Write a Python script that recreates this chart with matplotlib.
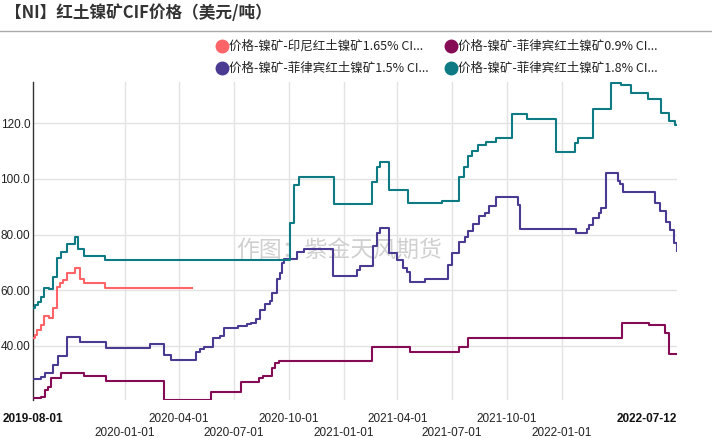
import matplotlib
matplotlib.use("Agg")
import matplotlib.pyplot as plt
import pandas as pd
from matplotlib.lines import Line2D

# ---- data ----
pink_dates = ["2019-08-01", "2019-08-04", "2019-08-07", "2019-08-14", "2019-08-19", "2019-08-27",
              "2019-09-03", "2019-09-10", "2019-09-15", "2019-09-20", "2019-09-26", "2019-10-10",
              "2019-10-18", "2019-10-25", "2019-11-29", "2020-04-22"]
pink_vals = [42.8, 44.0, 45.7, 47.5, 50.8, 50.0, 53.8, 61.2, 62.6, 63.7, 66.2, 68.0,
             64.0, 62.6, 60.7, 60.7]

teal_dates = ["2019-08-01", "2019-08-04", "2019-08-09", "2019-08-14", "2019-08-19", "2019-08-27",
              "2019-09-03", "2019-09-10", "2019-09-16", "2019-09-26", "2019-10-10", "2019-10-16",
              "2019-10-25", "2019-11-29", "2020-10-04", "2020-10-10", "2020-10-18", "2020-12-16",
              "2021-02-18", "2021-02-25", "2021-03-02", "2021-03-17", "2021-04-19", "2021-06-15",
              "2021-07-13", "2021-07-21", "2021-07-27", "2021-08-03", "2021-08-14", "2021-08-27",
              "2021-09-13", "2021-10-09", "2021-11-04", "2021-12-22", "2022-01-23", "2022-01-27",
              "2022-02-22", "2022-03-24", "2022-04-09", "2022-04-26", "2022-05-24", "2022-06-16",
              "2022-06-29", "2022-07-09", "2022-07-12"]
teal_vals = [53.5, 54.7, 55.9, 57.7, 60.7, 60.5, 64.9, 71.5, 73.9, 76.5, 79.0, 75.0,
             72.3, 70.9, 84.0, 97.8, 100.8, 90.9, 99.0, 104.4, 106.0, 95.9, 91.2, 92.2,
             100.8, 104.2, 108.2, 110.1, 112.2, 113.4, 114.8, 123.4, 121.4, 109.8, 112.8, 114.8,
             125.0, 134.5, 133.8, 130.7, 128.8, 123.8, 120.9, 119.4, 119.4]

purple_dates = ["2019-08-01", "2019-08-15", "2019-08-21", "2019-09-03", "2019-09-11", "2019-09-26",
                "2019-10-18", "2019-12-01", "2020-02-13", "2020-03-07", "2020-03-19", "2020-04-30",
                "2020-05-06", "2020-05-12", "2020-05-27", "2020-06-09", "2020-06-15", "2020-07-09",
                "2020-07-23", "2020-07-31", "2020-08-07", "2020-08-14", "2020-08-22", "2020-08-31",
                "2020-09-04", "2020-09-11", "2020-09-16", "2020-09-20", "2020-09-24", "2020-10-15",
                "2020-10-27", "2020-12-15", "2021-01-23", "2021-01-28", "2021-02-19", "2021-02-25",
                "2021-03-02", "2021-03-17", "2021-03-31", "2021-04-11", "2021-04-17", "2021-04-22",
                "2021-05-17", "2021-06-24", "2021-07-01", "2021-07-13", "2021-07-22", "2021-07-27",
                "2021-08-05", "2021-08-15", "2021-08-26", "2021-09-01", "2021-09-13", "2021-10-19",
                "2021-10-22", "2022-01-24", "2022-02-11", "2022-02-15", "2022-02-22", "2022-03-03",
                "2022-03-07", "2022-03-15", "2022-04-05", "2022-04-08", "2022-04-13", "2022-06-06",
                "2022-06-14", "2022-06-23", "2022-06-30", "2022-07-07", "2022-07-12"]
purple_vals = [28.3, 29.0, 30.4, 33.2, 36.4, 43.3, 41.3, 39.4, 40.8, 36.8, 34.9, 38.0,
               38.8, 39.8, 43.0, 43.6, 46.4, 47.2, 47.8, 48.1, 49.6, 52.9, 55.1, 56.3,
               58.9, 64.0, 66.1, 69.7, 71.1, 73.9, 74.7, 65.2, 67.3, 68.7, 76.0, 80.5,
               82.3, 73.3, 70.9, 67.9, 66.7, 63.1, 64.0, 69.1, 73.5, 77.5, 79.0, 81.4,
               83.8, 86.8, 87.9, 90.3, 93.4, 90.6, 81.9, 80.7, 81.9, 83.4, 85.8, 87.6,
               89.4, 102.2, 99.2, 98.2, 95.4, 91.5, 88.5, 84.6, 81.7, 77.1, 74.2]

magenta_dates = ["2019-08-01", "2019-08-15", "2019-08-21", "2019-08-26", "2019-08-31", "2019-09-17",
                 "2019-10-25", "2019-12-01", "2020-03-07", "2020-05-25", "2020-07-13", "2020-08-13",
                 "2020-08-20", "2020-09-04", "2020-09-08", "2020-09-15", "2021-02-18", "2021-04-22",
                 "2021-07-13", "2021-07-27", "2022-04-11", "2022-05-27", "2022-06-22", "2022-06-29",
                 "2022-07-12"]
magenta_vals = [21.2, 21.8, 24.2, 25.4, 28.4, 30.4, 29.3, 27.4, 20.7, 23.4, 27.2, 28.4,
                29.3, 32.0, 33.8, 34.7, 39.8, 37.9, 39.8, 43.0, 48.4, 47.5, 44.8, 37.0, 37.0]

series_names = ["价格-镍矿-印尼红土镍矿1.65% CI...", "价格-镍矿-菲律宾红土镍矿0.9% CI...",
                "价格-镍矿-菲律宾红土镍矿1.5% CI...", "价格-镍矿-菲律宾红土镍矿1.8% CI..."]
series_colors = ["#ff6468", "#850b55", "#4a3a92", "#0d7a84"]

grid_dates = ["2020-01-01", "2020-04-01", "2020-07-01", "2020-10-01", "2021-01-01",
              "2021-04-01", "2021-07-01", "2021-10-01", "2022-01-01"]
y_ticks = [40, 60, 80, 100, 120]
y_labels = ["40.00", "60.00", "80.00", "100.0", "120.0"]
x_start, x_end = "2019-08-01", "2022-07-12"

plt.rcParams["font.family"] = ["Liberation Sans", "Noto Sans CJK SC", "DejaVu Sans"]

fig = plt.figure(figsize=(7.12, 4.38), dpi=100)
ax = fig.add_axes([33 / 712, 1 - 400 / 438, (677 - 33) / 712, (400 - 82) / 438])

ax.plot(pd.to_datetime(magenta_dates), magenta_vals, drawstyle="steps-post", color=series_colors[1], lw=1.5, zorder=3)
ax.plot(pd.to_datetime(purple_dates), purple_vals, drawstyle="steps-post", color=series_colors[2], lw=1.5, zorder=3)
ax.plot(pd.to_datetime(teal_dates), teal_vals, drawstyle="steps-post", color=series_colors[3], lw=1.5, zorder=3)
ax.plot(pd.to_datetime(pink_dates), pink_vals, drawstyle="steps-post", color=series_colors[0], lw=1.5, zorder=3)

ax.set_xlim(pd.Timestamp(x_start), pd.Timestamp(x_end))
ax.set_ylim(20.6, 134.8)

# grid
for d in pd.to_datetime(grid_dates):
    ax.axvline(d, color="#e3e3e3", lw=1, zorder=0)
for v in y_ticks:
    ax.axhline(v, color="#e3e3e3", lw=1, zorder=0)

ax.set_yticks(y_ticks)
ax.set_yticklabels(y_labels, fontsize=8.5, color="#222")
ax.tick_params(axis="y", length=0, pad=2)
ax.set_xticks([])
for s in ["top", "right", "bottom"]:
    ax.spines[s].set_visible(False)
ax.spines["left"].set_color("#333")
ax.spines["left"].set_linewidth(1)

# staggered date labels
tr = ax.get_xaxis_transform()
for i, d in enumerate(grid_dates):
    yy = -0.06 if i % 2 else -0.105
    ax.text(pd.Timestamp(d), yy, d, transform=tr, ha="center", va="center", fontsize=8.5, color="#222")
ax.text(pd.Timestamp(x_start), -0.06, x_start, transform=tr, ha="center", va="center",
        fontsize=8.5, fontweight="bold", color="#111")
ax.text(pd.Timestamp(x_end), -0.06, x_end, transform=tr, ha="right", va="center",
        fontsize=8.5, fontweight="bold", color="#111")

# watermark
ax.text(0.475, 0.47, "作图：紫金天风期货", transform=ax.transAxes, ha="center", va="center",
        fontsize=16.5, color="#d0d0d0", family=["Noto Sans CJK SC"], zorder=1)

# title and separator
fig.text(5 / 712, 1 - 13 / 438, "【NI】红土镍矿CIF价格（美元/吨）", ha="left", va="center",
         fontsize=12, fontweight="bold", color="#333", family=["Noto Sans CJK SC"])
fig.add_artist(Line2D([0, 1], [1 - 31 / 438, 1 - 31 / 438], transform=fig.transFigure, color="#aaa", lw=1))

# legend
leg_pos = [(222, 46), (451, 46), (222, 68), (451, 68)]
for name, col, (lx, ly) in zip(series_names, series_colors, leg_pos):
    fig.add_artist(Line2D([lx / 712], [1 - ly / 438], transform=fig.transFigure, marker="o",
                          markersize=9, color=col, linestyle="none"))
    fig.text((lx + 7) / 712, 1 - ly / 438, name, ha="left", va="center", fontsize=9,
             color="#222", family=["Noto Sans CJK SC", "DejaVu Sans"])

fig.savefig("out.png", dpi=100)
